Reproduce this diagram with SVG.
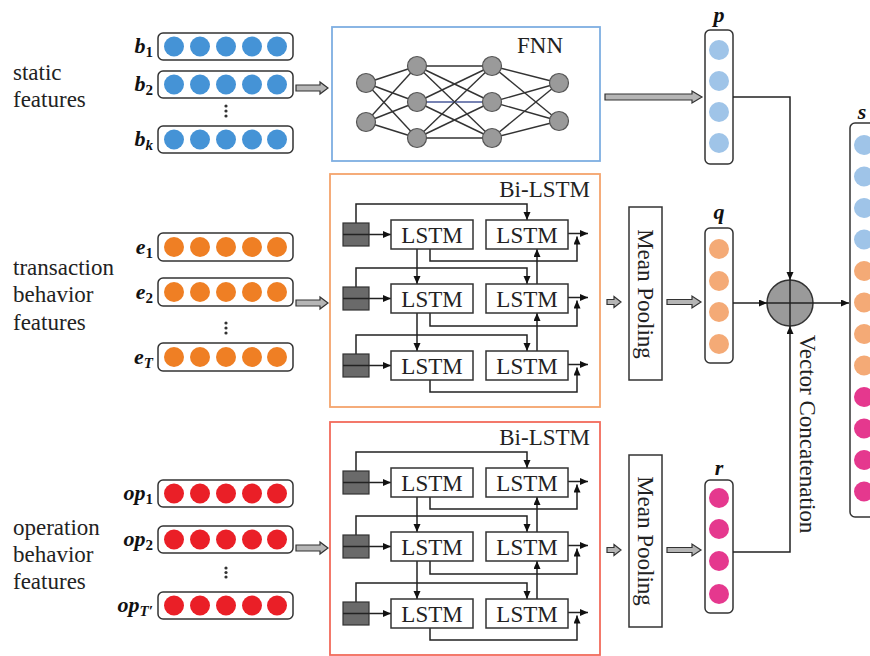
<svg xmlns="http://www.w3.org/2000/svg" width="870" height="656" viewBox="0 0 870 656" font-family="'Liberation Serif', 'Times New Roman', Times, 'DejaVu Serif', serif">
<style>
.vb{fill:#fff;stroke:#333;stroke-width:1.5}
.ln{fill:none;stroke:#222;stroke-width:1.5}
.ha{fill:#b5b5b5;stroke:#333;stroke-width:1.2}
.t{font-family:'Liberation Serif','Times New Roman',Times,'DejaVu Serif',serif;font-size:23px;fill:#222}
.lb{font-family:'Liberation Serif','Times New Roman',Times,'DejaVu Serif',serif;font-size:22px;font-weight:bold;font-style:italic;fill:#111}
.sub{font-size:15px;font-style:normal}
.subi{font-size:15px}
.lstm{fill:#fff;stroke:#333;stroke-width:1.5}
.gb{fill:#6a6a6a;stroke:#333;stroke-width:1.2}
.fe{stroke:#333;stroke-width:1.4}
.fn{fill:#9a9a9a;stroke:#555;stroke-width:1.2}
.cb{fill:#4593d6}.co{fill:#ef7f24}.cr{fill:#ea1f27}
.lbl{fill:#9fc4e8}.lor{fill:#f4aa76}.pk{fill:#e5388e}
.dot{fill:#333}
</style>
<defs>
<marker id="ah" markerUnits="userSpaceOnUse" markerWidth="9" markerHeight="8" refX="8" refY="3.5" orient="auto">
<path d="M0,0 L8,3.5 L0,7 Z" fill="#111"/>
</marker>
</defs>

<!-- static features -->
<g id="static-features">
<text class="t" x="13" y="80">static</text>
<text class="t" x="13" y="107">features</text>
<text class="lb" x="153" y="53" text-anchor="end">b<tspan class="sub" dy="4">1</tspan></text>
<rect class="vb" x="158" y="33" width="135" height="27" rx="5"/>
<circle class="cb" cx="174" cy="46.5" r="10"/><circle class="cb" cx="200" cy="46.5" r="10"/><circle class="cb" cx="226" cy="46.5" r="10"/><circle class="cb" cx="252" cy="46.5" r="10"/><circle class="cb" cx="277" cy="46.5" r="10"/>
<text class="lb" x="153" y="91" text-anchor="end">b<tspan class="sub" dy="4">2</tspan></text>
<rect class="vb" x="158" y="71" width="135" height="27" rx="5"/>
<circle class="cb" cx="174" cy="84.5" r="10"/><circle class="cb" cx="200" cy="84.5" r="10"/><circle class="cb" cx="226" cy="84.5" r="10"/><circle class="cb" cx="252" cy="84.5" r="10"/><circle class="cb" cx="277" cy="84.5" r="10"/>
<circle class="dot" cx="226" cy="106" r="1.6"/><circle class="dot" cx="226" cy="111" r="1.6"/><circle class="dot" cx="226" cy="116" r="1.6"/>
<text class="lb" x="153" y="146" text-anchor="end">b<tspan class="subi" dy="4">k</tspan></text>
<rect class="vb" x="158" y="126" width="135" height="27" rx="5"/>
<circle class="cb" cx="174" cy="139.5" r="10"/><circle class="cb" cx="200" cy="139.5" r="10"/><circle class="cb" cx="226" cy="139.5" r="10"/><circle class="cb" cx="252" cy="139.5" r="10"/><circle class="cb" cx="277" cy="139.5" r="10"/>
</g>

<!-- transaction features -->
<g id="transaction-features">
<text class="t" x="13" y="275">transaction</text>
<text class="t" x="13" y="302">behavior</text>
<text class="t" x="13" y="330">features</text>
<text class="lb" x="153" y="254" text-anchor="end">e<tspan class="sub" dy="4">1</tspan></text>
<rect class="vb" x="158" y="233" width="135" height="28" rx="5"/>
<circle class="co" cx="174" cy="247" r="10"/><circle class="co" cx="200" cy="247" r="10"/><circle class="co" cx="226" cy="247" r="10"/><circle class="co" cx="252" cy="247" r="10"/><circle class="co" cx="277" cy="247" r="10"/>
<text class="lb" x="153" y="299" text-anchor="end">e<tspan class="sub" dy="4">2</tspan></text>
<rect class="vb" x="158" y="278" width="135" height="28" rx="5"/>
<circle class="co" cx="174" cy="292" r="10"/><circle class="co" cx="200" cy="292" r="10"/><circle class="co" cx="226" cy="292" r="10"/><circle class="co" cx="252" cy="292" r="10"/><circle class="co" cx="277" cy="292" r="10"/>
<circle class="dot" cx="226" cy="323" r="1.6"/><circle class="dot" cx="226" cy="328" r="1.6"/><circle class="dot" cx="226" cy="333" r="1.6"/>
<text class="lb" x="153" y="364" text-anchor="end">e<tspan class="subi" dy="4">T</tspan></text>
<rect class="vb" x="158" y="343" width="135" height="28" rx="5"/>
<circle class="co" cx="174" cy="357" r="10"/><circle class="co" cx="200" cy="357" r="10"/><circle class="co" cx="226" cy="357" r="10"/><circle class="co" cx="252" cy="357" r="10"/><circle class="co" cx="277" cy="357" r="10"/>
</g>

<!-- operation features -->
<g id="operation-features">
<text class="t" x="13" y="535">operation</text>
<text class="t" x="13" y="562">behavior</text>
<text class="t" x="13" y="589">features</text>
<text class="lb" x="153" y="500" text-anchor="end">op<tspan class="sub" dy="4">1</tspan></text>
<rect class="vb" x="158" y="480" width="135" height="27" rx="5"/>
<circle class="cr" cx="174" cy="493.5" r="10"/><circle class="cr" cx="200" cy="493.5" r="10"/><circle class="cr" cx="226" cy="493.5" r="10"/><circle class="cr" cx="252" cy="493.5" r="10"/><circle class="cr" cx="277" cy="493.5" r="10"/>
<text class="lb" x="153" y="546" text-anchor="end">op<tspan class="sub" dy="4">2</tspan></text>
<rect class="vb" x="158" y="526" width="135" height="27" rx="5"/>
<circle class="cr" cx="174" cy="539.5" r="10"/><circle class="cr" cx="200" cy="539.5" r="10"/><circle class="cr" cx="226" cy="539.5" r="10"/><circle class="cr" cx="252" cy="539.5" r="10"/><circle class="cr" cx="277" cy="539.5" r="10"/>
<circle class="dot" cx="226" cy="568" r="1.6"/><circle class="dot" cx="226" cy="572.5" r="1.6"/><circle class="dot" cx="226" cy="577" r="1.6"/>
<text class="lb" x="153" y="612" text-anchor="end">op<tspan class="subi" dy="4">T′</tspan></text>
<rect class="vb" x="158" y="592" width="135" height="27" rx="5"/>
<circle class="cr" cx="174" cy="605.5" r="10"/><circle class="cr" cx="200" cy="605.5" r="10"/><circle class="cr" cx="226" cy="605.5" r="10"/><circle class="cr" cx="252" cy="605.5" r="10"/><circle class="cr" cx="277" cy="605.5" r="10"/>
</g>

<!-- FNN -->
<g id="fnn">
<rect x="332" y="27" width="268" height="134" fill="#fff" stroke="#7eaee2" stroke-width="1.8"/>
<text class="t" x="517" y="53">FNN</text>
<g class="fe">
<line x1="366" y1="83" x2="417" y2="66"/><line x1="366" y1="83" x2="417" y2="102"/><line x1="366" y1="83" x2="417" y2="138"/>
<line x1="366" y1="122" x2="417" y2="66"/><line x1="366" y1="122" x2="417" y2="102"/><line x1="366" y1="122" x2="417" y2="138"/>
<line x1="417" y1="66" x2="492" y2="66"/><line x1="417" y1="66" x2="492" y2="102"/><line x1="417" y1="66" x2="492" y2="138"/>
<line x1="417" y1="102" x2="492" y2="66"/><line x1="417" y1="102" x2="492" y2="102" stroke="#4a5a9a"/><line x1="417" y1="102" x2="492" y2="138"/>
<line x1="417" y1="138" x2="492" y2="66"/><line x1="417" y1="138" x2="492" y2="102"/><line x1="417" y1="138" x2="492" y2="138"/>
<line x1="492" y1="66" x2="559" y2="83"/><line x1="492" y1="66" x2="559" y2="121"/>
<line x1="492" y1="102" x2="559" y2="83"/><line x1="492" y1="102" x2="559" y2="121"/>
<line x1="492" y1="138" x2="559" y2="83"/><line x1="492" y1="138" x2="559" y2="121"/>
</g>
<circle class="fn" cx="366" cy="83" r="9.5"/><circle class="fn" cx="366" cy="122" r="9.5"/>
<circle class="fn" cx="417" cy="66" r="9.5"/><circle class="fn" cx="417" cy="102" r="9.5"/><circle class="fn" cx="417" cy="138" r="9.5"/>
<circle class="fn" cx="492" cy="66" r="9.5"/><circle class="fn" cx="492" cy="102" r="9.5"/><circle class="fn" cx="492" cy="138" r="9.5"/>
<circle class="fn" cx="559" cy="83" r="9.5"/><circle class="fn" cx="559" cy="121" r="9.5"/>
</g>

<!-- Bi-LSTM (transaction) -->
<g id="bilstm-transaction">
<rect x="330" y="174" width="270" height="233" fill="#fff" stroke="#f4a46c" stroke-width="1.8"/>
<text class="t" x="590" y="197" text-anchor="end">Bi-LSTM</text>
<g class="ln" marker-end="url(#ah)">
<path d="M356,223 V204 H527 V220"/>
<path d="M356,287 V268 H527 V284"/>
<path d="M356,354 V335 H527 V351"/>
<path d="M369,234.5 H391"/><path d="M369,298.5 H391"/><path d="M369,365.5 H391"/>
<path d="M417,249 V284"/><path d="M417,313 V351"/>
<path d="M430,249 V261 H577 V236.5"/>
<path d="M430,313 V326 H577 V300.5"/>
<path d="M430,380 V392 H577 V367.5"/>
<path d="M537,284 V249"/><path d="M537,351 V313"/>
<path d="M568,233.5 H588"/><path d="M568,297.5 H588"/><path d="M568,364.5 H588"/>
</g>
<rect class="gb" x="343" y="223" width="26" height="23"/><line class="ln" x1="343" y1="234.5" x2="369" y2="234.5"/>
<rect class="gb" x="343" y="287" width="26" height="23"/><line class="ln" x1="343" y1="298.5" x2="369" y2="298.5"/>
<rect class="gb" x="343" y="354" width="26" height="23"/><line class="ln" x1="343" y1="365.5" x2="369" y2="365.5"/>
<rect class="lstm" x="391" y="220" width="82" height="29"/><text class="t" x="432" y="242.5" text-anchor="middle">LSTM</text>
<rect class="lstm" x="486" y="220" width="82" height="29"/><text class="t" x="527" y="242.5" text-anchor="middle">LSTM</text>
<rect class="lstm" x="391" y="284" width="82" height="29"/><text class="t" x="432" y="306.5" text-anchor="middle">LSTM</text>
<rect class="lstm" x="486" y="284" width="82" height="29"/><text class="t" x="527" y="306.5" text-anchor="middle">LSTM</text>
<rect class="lstm" x="391" y="351" width="82" height="29"/><text class="t" x="432" y="373.5" text-anchor="middle">LSTM</text>
<rect class="lstm" x="486" y="351" width="82" height="29"/><text class="t" x="527" y="373.5" text-anchor="middle">LSTM</text>
</g>

<!-- Bi-LSTM (operation) -->
<g id="bilstm-operation">
<rect x="330" y="422" width="270" height="233" fill="#fff" stroke="#f26b5b" stroke-width="1.8"/>
<text class="t" x="590" y="445" text-anchor="end">Bi-LSTM</text>
<g class="ln" marker-end="url(#ah)">
<path d="M356,471 V452 H527 V468"/>
<path d="M356,535 V516 H527 V532"/>
<path d="M356,602 V583 H527 V599"/>
<path d="M369,482.5 H391"/><path d="M369,546.5 H391"/><path d="M369,613.5 H391"/>
<path d="M417,497 V532"/><path d="M417,561 V599"/>
<path d="M430,497 V509 H577 V484.5"/>
<path d="M430,561 V574 H577 V548.5"/>
<path d="M430,628 V640 H577 V615.5"/>
<path d="M537,532 V497"/><path d="M537,599 V561"/>
<path d="M568,481.5 H588"/><path d="M568,545.5 H588"/><path d="M568,612.5 H588"/>
</g>
<rect class="gb" x="343" y="471" width="26" height="23"/><line class="ln" x1="343" y1="482.5" x2="369" y2="482.5"/>
<rect class="gb" x="343" y="535" width="26" height="23"/><line class="ln" x1="343" y1="546.5" x2="369" y2="546.5"/>
<rect class="gb" x="343" y="602" width="26" height="23"/><line class="ln" x1="343" y1="613.5" x2="369" y2="613.5"/>
<rect class="lstm" x="391" y="468" width="82" height="29"/><text class="t" x="432" y="490.5" text-anchor="middle">LSTM</text>
<rect class="lstm" x="486" y="468" width="82" height="29"/><text class="t" x="527" y="490.5" text-anchor="middle">LSTM</text>
<rect class="lstm" x="391" y="532" width="82" height="29"/><text class="t" x="432" y="554.5" text-anchor="middle">LSTM</text>
<rect class="lstm" x="486" y="532" width="82" height="29"/><text class="t" x="527" y="554.5" text-anchor="middle">LSTM</text>
<rect class="lstm" x="391" y="599" width="82" height="29"/><text class="t" x="432" y="621.5" text-anchor="middle">LSTM</text>
<rect class="lstm" x="486" y="599" width="82" height="29"/><text class="t" x="527" y="621.5" text-anchor="middle">LSTM</text>
</g>

<!-- Mean pooling -->
<g id="mean-pooling-1">
<rect x="629" y="207" width="33" height="173" fill="#fff" stroke="#333" stroke-width="1.5"/>
<text class="t" transform="translate(638,294) rotate(90)" text-anchor="middle">Mean Pooling</text>
</g>
<g id="mean-pooling-2">
<rect x="629" y="455" width="33" height="172" fill="#fff" stroke="#333" stroke-width="1.5"/>
<text class="t" transform="translate(638,541) rotate(90)" text-anchor="middle">Mean Pooling</text>
</g>

<!-- p, q, r vectors -->
<g id="vec-p">
<text class="lb" x="719" y="22" text-anchor="middle">p</text>
<rect class="vb" x="705" y="30" width="28" height="134" rx="5"/>
<circle class="lbl" cx="719" cy="50" r="10"/><circle class="lbl" cx="719" cy="81" r="10"/><circle class="lbl" cx="719" cy="112" r="10"/><circle class="lbl" cx="719" cy="143" r="10"/>
</g>
<g id="vec-q">
<text class="lb" x="719" y="219" text-anchor="middle">q</text>
<rect class="vb" x="705" y="228" width="28" height="135" rx="5"/>
<circle class="lor" cx="719" cy="249" r="10"/><circle class="lor" cx="719" cy="281" r="10"/><circle class="lor" cx="719" cy="312" r="10"/><circle class="lor" cx="719" cy="344" r="10"/>
</g>
<g id="vec-r">
<text class="lb" x="719" y="475" text-anchor="middle">r</text>
<rect class="vb" x="705" y="480" width="28" height="133" rx="5"/>
<circle class="pk" cx="719" cy="498" r="10"/><circle class="pk" cx="719" cy="529" r="10"/><circle class="pk" cx="719" cy="561" r="10"/><circle class="pk" cx="719" cy="594" r="10"/>
</g>

<!-- concat node -->
<g id="concat">
<circle cx="790" cy="303" r="23" fill="#9a9a9a" stroke="#333" stroke-width="1.5"/>
<line class="ln" x1="767" y1="303" x2="813" y2="303"/>
<line class="ln" x1="790" y1="280" x2="790" y2="326"/>
<text class="t" transform="translate(800,434) rotate(90)" text-anchor="middle">Vector Concatenation</text>
</g>

<!-- s vector -->
<g id="vec-s">
<text class="lb" x="862" y="119" text-anchor="middle">s</text>
<rect class="vb" x="850" y="123" width="30" height="394" rx="5"/>
<circle class="lbl" cx="864" cy="145" r="10"/><circle class="lbl" cx="864" cy="176.5" r="10"/><circle class="lbl" cx="864" cy="208" r="10"/><circle class="lbl" cx="864" cy="239.5" r="10"/>
<circle class="lor" cx="864" cy="271" r="10"/><circle class="lor" cx="864" cy="302.5" r="10"/><circle class="lor" cx="864" cy="334" r="10"/><circle class="lor" cx="864" cy="365.5" r="10"/>
<circle class="pk" cx="864" cy="397" r="10"/><circle class="pk" cx="864" cy="428.5" r="10"/><circle class="pk" cx="864" cy="460" r="10"/><circle class="pk" cx="864" cy="491.5" r="10"/>
</g>

<!-- connectors -->
<g id="connectors">
<path class="ha" d="M296,85 H320 V82 L328,88 L320,94 V91 H296 Z"/>
<path class="ha" d="M296,300 H320 V297 L328,303 L320,309 V306 H296 Z"/>
<path class="ha" d="M296,545 H320 V542 L328,548 L320,554 V551 H296 Z"/>
<path class="ha" d="M605,94 H692 V91 L702,97 L692,103 V100 H605 Z"/>
<path class="ha" d="M607,299.5 H614 V296.5 L621,302 L614,307.5 V304.5 H607 Z"/>
<path class="ha" d="M667,299.5 H692 V296 L701,302 L692,308 V304.5 H667 Z"/>
<path class="ha" d="M607,547.5 H614 V544.5 L621,550 L614,555.5 V552.5 H607 Z"/>
<path class="ha" d="M667,547.5 H692 V544 L701,550 L692,556 V552.5 H667 Z"/>
<g class="ln" marker-end="url(#ah)">
<path d="M733,97 H790 V280"/>
<path d="M733,303 H767"/>
<path d="M813,303 H849"/>
<path d="M733,552 H790 V326"/>
</g>
</g>
</svg>
